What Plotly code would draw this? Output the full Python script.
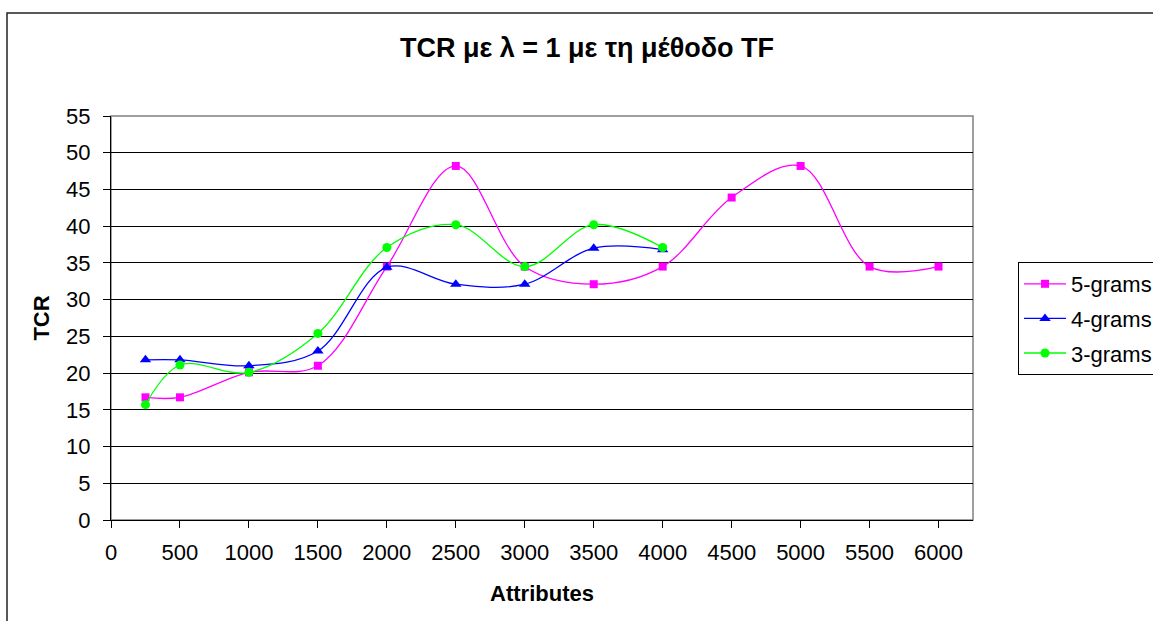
import plotly.graph_objects as go

attributes_5 = [250, 500, 1000, 1500, 2000, 2500, 3000, 3500, 4000, 4500, 5000, 5500, 6000]
tcr_5 = [16.7, 16.7, 20.1, 21.0, 34.5, 48.2, 34.5, 32.1, 34.5, 43.9, 48.2, 34.5, 34.5]

attributes_4 = [250, 500, 1000, 1500, 2000, 2500, 3000, 3500, 4000]
tcr_4 = [21.8, 21.8, 21.0, 23.0, 34.4, 32.1, 32.1, 37.0, 36.8]

attributes_3 = [250, 500, 1000, 1500, 2000, 2500, 3000, 3500, 4000]
tcr_3 = [15.7, 21.1, 20.1, 25.4, 37.1, 40.2, 34.5, 40.2, 37.1]

FONT = "Liberation Sans, Arial, sans-serif"

fig = go.Figure()
fig.add_trace(go.Scatter(x=attributes_5, y=tcr_5, name="5-grams", mode="lines+markers",
                         line=dict(color="#FF00FF", width=1.3, shape="spline", smoothing=1),
                         marker=dict(symbol="square", size=8, color="#FF00FF"),
                         legendgroup="a"))
fig.add_trace(go.Scatter(x=attributes_4, y=tcr_4, name="4-grams", mode="lines+markers",
                         line=dict(color="#0000FF", width=1.3, shape="spline", smoothing=1),
                         marker=dict(symbol="triangle-up", size=10, color="#0000FF"),
                         legendgroup="b"))
fig.add_trace(go.Scatter(x=attributes_3, y=tcr_3, name="3-grams", mode="lines+markers",
                         line=dict(color="#00FF00", width=1.3, shape="spline", smoothing=1),
                         marker=dict(symbol="circle", size=9, color="#00FF00"),
                         legendgroup="c"))

W, H = 1153, 621
L, R, T, B = 111, 973, 116, 520
pw, ph = R - L, B - T

fig.update_layout(
    width=W, height=H,
    margin=dict(l=L, r=W - R, t=T, b=H - B, autoexpand=False),
    paper_bgcolor="white", plot_bgcolor="white",
    font=dict(family=FONT, size=22, color="black"),
    title=dict(text="<b>TCR με λ = 1 με τη μέθοδο TF</b>", x=587 / W, xref="container",
               xanchor="center", y=1 - 48 / H, yref="container", yanchor="middle",
               font=dict(size=27)),
    legend=dict(x=(1018 - L) / pw, xanchor="left", y=(B - 262) / ph, yanchor="top",
                bordercolor="black", borderwidth=1, bgcolor="white",
                font=dict(size=22), tracegroupgap=3, itemwidth=42),
    xaxis=dict(range=[0, 6250], tick0=0, dtick=500, showgrid=False, ticks="outside",
               ticklen=7, tickcolor="black", showline=True, linecolor="black", linewidth=1,
               zeroline=False, tickfont=dict(size=22), ticklabelstandoff=6,
               title=dict(text="<b>Attributes</b>", font=dict(size=22), standoff=21)),
    yaxis=dict(range=[0, 55], tick0=0, dtick=5, showgrid=True, gridcolor="black", gridwidth=1,
               ticks="outside", ticklen=7, tickcolor="black", showline=True, linecolor="black",
               linewidth=1, zeroline=False, tickfont=dict(size=22), ticklabelstandoff=8,
               title=dict(text="<b>TCR</b>", font=dict(size=22), standoff=10)),
    shapes=[
        dict(type="rect", xref="paper", yref="paper", x0=0, x1=1, y0=0, y1=1,
             line=dict(color="#808080", width=1.5), layer="between"),
        dict(type="rect", xref="paper", yref="paper",
             x0=(7 - L) / pw, x1=(1300 - L) / pw, y0=(B - 13) / ph, y1=(B - 700) / ph,
             line=dict(color="#222222", width=1.5), layer="below"),
    ],
)

fig.write_html("out.html")
